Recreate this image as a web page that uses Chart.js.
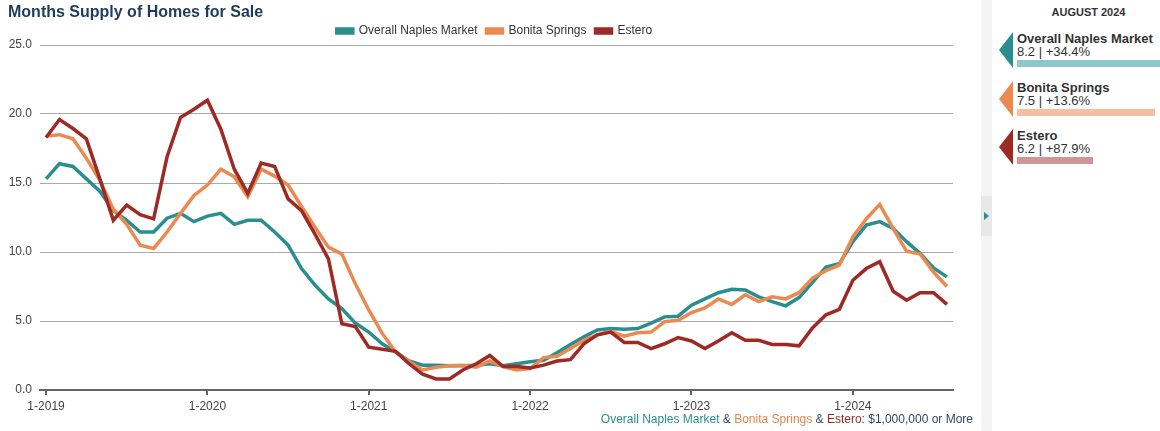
<!DOCTYPE html>
<html>
<head>
<meta charset="utf-8">
<script src="https://cdn.jsdelivr.net/npm/chart.js@4.4.1/dist/chart.umd.min.js"></script>
<style>
  body { margin: 0; background: #fff; font-family: "Liberation Sans", Arial, sans-serif; }
  #wrap { position: relative; width: 1160px; height: 431px; overflow: hidden; }
  #chart-box { position: absolute; left: 0; top: 0; width: 975px; height: 431px; }
  .title { position: absolute; left: 8px; top: 3px; font-size: 16px; font-weight: bold; color: #1e3a5c; }
  .caption { position: absolute; right: 187px; top: 412px; font-size: 12px; color: #2c4a6e; white-space: nowrap; }
  .strip { position: absolute; left: 981px; top: 0; width: 11px; height: 431px; background: #f4f4f4; }
  .toggle { position: absolute; left: 981px; top: 196px; width: 11px; height: 40px; background: #e8e8e8; }
  .toggle:after { content: ""; position: absolute; left: 3px; top: 16px; border-left: 5px solid #2a8e90;
    border-top: 4px solid transparent; border-bottom: 4px solid transparent; }
  .month { position: absolute; left: 1017px; width: 143px; top: 6px; text-align: center; font-size: 11px; font-weight: bold; color: #333; }
  .item { position: absolute; left: 999px; width: 161px; height: 40px; }
  .item .arrow { position: absolute; left: 0; top: 0; border-right: 14px solid; border-top: 18px solid transparent; border-bottom: 18px solid transparent; }
  .item .name { position: absolute; left: 18px; top: -1px; font-size: 13px; font-weight: bold; color: #333; white-space: nowrap; }
  .item .val { position: absolute; left: 18px; top: 12px; font-size: 13px; color: #333; white-space: nowrap; }
  .item .bar { position: absolute; left: 18px; top: 28px; height: 7px; }
</style>
</head>
<body>
<div id="wrap">
  <div id="chart-box"><canvas id="supply"></canvas></div>
  <div class="title">Months Supply of Homes for Sale</div>
  <div class="caption"><span style="color:#2a8e90">Overall Naples Market</span> &amp; <span style="color:#e8854f">Bonita Springs</span> &amp; <span style="color:#9e2a26">Estero</span>: $1,000,000 or More</div>
  <div class="strip"></div>
  <div class="toggle"></div>
  <div class="month">AUGUST 2024</div>
  <div id="side"></div>
</div>
<script>
const seriesNames = ['Overall Naples Market', 'Bonita Springs', 'Estero'];
const seriesColors = ['#2a8e90', '#ea8a50', '#9e2a26'];
const barColors = ['#8fc8ca', '#f5c0a2', '#d29595'];

// one value per month, 1-2019 .. 8-2024
const naples = [15.3, 16.4, 16.2, 15.3, 14.4, 13.0, 12.3, 11.45, 11.45, 12.45, 12.8, 12.2,
  12.6, 12.8, 12.0, 12.3, 12.3, 11.45, 10.5, 8.8, 7.6, 6.6, 5.9, 4.85,
  4.2, 3.35, 2.75, 2.1, 1.8, 1.8, 1.75, 1.75, 1.8, 1.9, 1.75, 1.9,
  2.05, 2.15, 2.7, 3.3, 3.85, 4.35, 4.45, 4.4, 4.45, 4.85, 5.3, 5.35,
  6.15, 6.6, 7.05, 7.3, 7.25, 6.75, 6.4, 6.1, 6.7, 7.8, 8.9, 9.15,
  10.75, 11.95, 12.2, 11.7, 10.75, 9.9, 8.85, 8.2];
const bonita = [18.4, 18.5, 18.2, 16.8, 15.2, 13.1, 12.0, 10.5, 10.25, 11.45, 12.8, 14.1,
  14.85, 16.0, 15.45, 14.0, 16.0, 15.5, 14.85, 13.3, 11.8, 10.35, 9.85, 7.7,
  5.8, 4.1, 2.75, 2.05, 1.45, 1.65, 1.75, 1.8, 1.65, 2.1, 1.7, 1.45,
  1.55, 2.35, 2.45, 3.0, 3.6, 4.0, 4.25, 3.9, 4.15, 4.2, 4.95, 5.05,
  5.6, 5.95, 6.6, 6.2, 6.9, 6.4, 6.75, 6.6, 7.05, 8.1, 8.65, 9.05,
  11.1, 12.4, 13.45, 11.7, 10.05, 9.85, 8.55, 7.5];
const estero = [18.3, 19.6, 18.95, 18.2, 15.3, 12.3, 13.4, 12.7, 12.4, 16.9, 19.75, 20.35,
  21.0, 18.9, 16.0, 14.25, 16.45, 16.2, 13.85, 13.0, 11.3, 9.5, 4.8, 4.6,
  3.1, 2.95, 2.8, 1.9, 1.15, 0.8, 0.8, 1.45, 1.9, 2.5, 1.7, 1.7,
  1.6, 1.8, 2.1, 2.2, 3.35, 4.0, 4.2, 3.45, 3.45, 3.0, 3.35, 3.8,
  3.55, 3.0, 3.55, 4.15, 3.6, 3.6, 3.3, 3.3, 3.2, 4.5, 5.45, 5.85,
  7.95, 8.8, 9.3, 7.15, 6.5, 7.05, 7.05, 6.2];

const tickLabels = ['1-2019', '1-2020', '1-2021', '1-2022', '1-2023', '1-2024'];
const tickIndex = [0, 12, 24, 36, 48, 60];
const yTicks = [0, 5, 10, 15, 20, 25];

// side panel
const latest = ['8.2 | +34.4%', '7.5 | +13.6%', '6.2 | +87.9%'];
const barWidths = [150, 138, 76];

const side = document.getElementById('side');
seriesNames.forEach((name, i) => {
  const el = document.createElement('div');
  el.className = 'item';
  el.style.top = (32 + i * 48.5) + 'px';
  el.innerHTML = '<div class="arrow" style="border-right-color:' + seriesColors[i] + '"></div>' +
    '<div class="name">' + name + '</div><div class="val">' + latest[i] + '</div>' +
    '<div class="bar" style="width:' + barWidths[i] + 'px;background:' + barColors[i] + '"></div>';
  side.appendChild(el);
});

Chart.defaults.font.family = '"Liberation Sans", Arial, sans-serif';
Chart.defaults.font.size = 12;
Chart.defaults.color = '#444';

// keep the legend short vertically and centre it over the plot area
const tightLegend = {
  id: 'tightLegend',
  beforeInit(chart) {
    const legend = chart.legend;
    const fit = legend.fit;
    legend.fit = function () {
      fit.call(this);
      this.height -= 2;
    };
  },
  afterLayout(chart) {
    const shift = 18;
    chart.legend.left += shift;
    chart.legend.right += shift;
  }
};

const toPoints = arr => arr.map((v, i) => ({ x: i, y: v }));
const allSeries = [naples, bonita, estero];

const ctx = document.getElementById('supply').getContext('2d');
const chart = new Chart(ctx, {
  type: 'line',
  data: {
    datasets: allSeries.map((s, i) => ({
      label: seriesNames[i],
      data: toPoints(s),
      borderColor: seriesColors[i],
      backgroundColor: seriesColors[i],
      borderWidth: 3.5,
      pointRadius: 0,
      tension: 0,
      fill: false,
      order: 3 - i
    }))
  },
  plugins: [tightLegend],
  options: {
    responsive: true,
    maintainAspectRatio: false,
    animation: false,
    layout: { padding: { top: 16, right: 22, bottom: 0, left: 0 } },
    plugins: {
      legend: {
        labels: {
          boxWidth: 16, boxHeight: 4, padding: 9, color: '#333', font: { size: 12 },
          sort: (a, b) => a.datasetIndex - b.datasetIndex
        }
      },
      tooltip: { enabled: false }
    },
    scales: {
      x: {
        type: 'linear',
        min: -0.45,
        max: 67.45,
        afterBuildTicks: scale => { scale.ticks = tickIndex.map(v => ({ value: v })); },
        afterFit: scale => { scale.height = 41; },
        ticks: {
          padding: 4,
          color: '#444',
          callback: value => tickLabels[tickIndex.indexOf(value)]
        },
        grid: { drawOnChartArea: false, drawTicks: true, tickLength: 5, color: '#666', lineWidth: 2 },
        border: { display: true, color: '#666', width: 2 }
      },
      y: {
        min: 0,
        max: 25,
        afterBuildTicks: scale => { scale.ticks = yTicks.map(v => ({ value: v })); },
        afterFit: scale => { scale.width = 40; },
        ticks: { padding: 8, color: '#444', callback: value => value.toFixed(1) },
        grid: { color: '#aaa', lineWidth: 1, drawTicks: false },
        border: { display: false }
      }
    }
  }
});
</script>
</body>
</html>
